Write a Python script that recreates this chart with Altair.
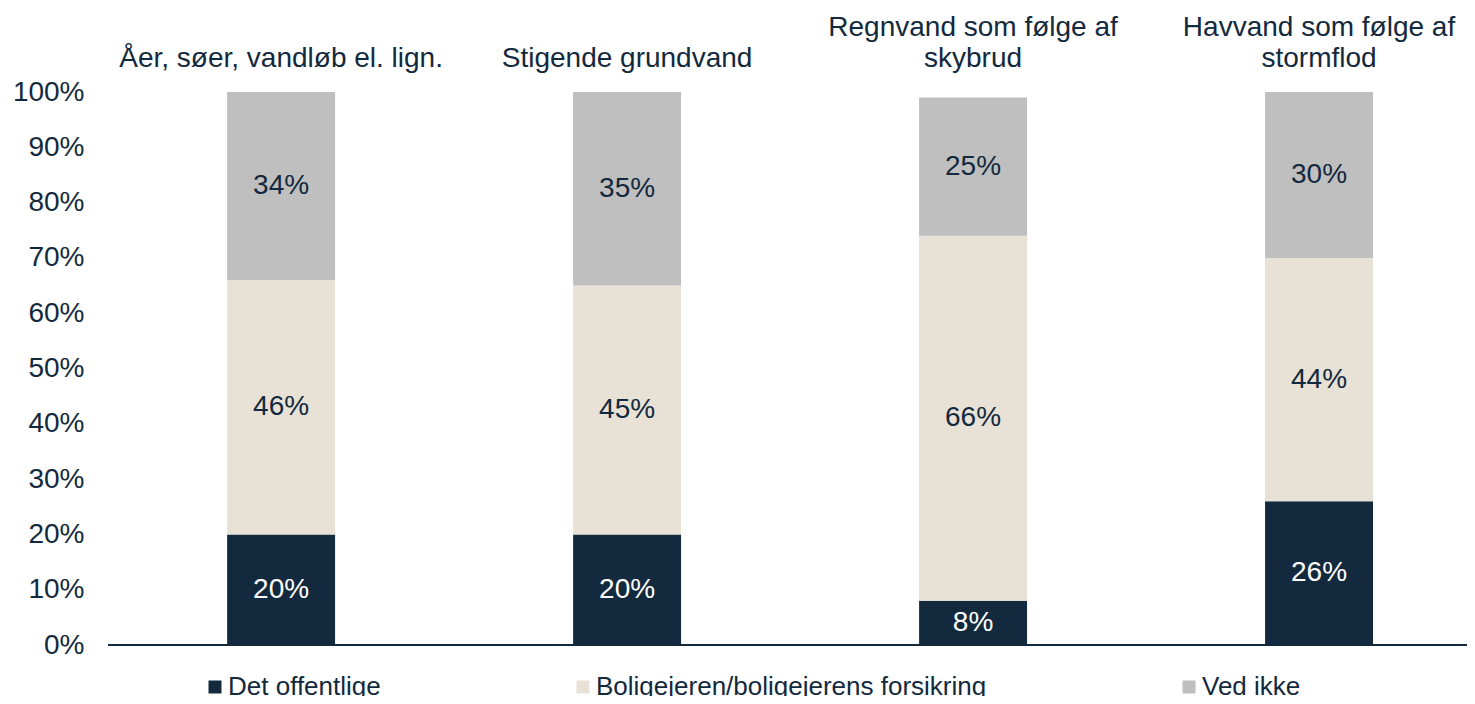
import altair as alt
import pandas as pd

categories = [
    "Åer, søer, vandløb el. lign.",
    "Stigende grundvand",
    "Regnvand som følge af|skybrud",
    "Havvand som følge af|stormflod",
]
series = ["Det offentlige", "Boligejeren/boligejerens forsikring", "Ved ikke"]
det_offentlige = [20, 20, 8, 26]
boligejeren = [46, 45, 66, 44]
ved_ikke = [34, 35, 25, 30]
colors = ["#132a3e", "#e7e1d6", "#bfbfbf"]
y_ticks = [0, 10, 20, 30, 40, 50, 60, 70, 80, 90, 100]

DARK = "#13293d"
FONT = "Liberation Sans"
W, H = 1359, 553

rows = []
for i, c in enumerate(categories):
    for j, (s, vals) in enumerate(zip(series, [det_offentlige, boligejeren, ved_ikke])):
        rows.append({"category": c, "series": s, "order": j, "value": vals[i]})
df = pd.DataFrame(rows)

x_enc = alt.X(
    "category:N",
    sort=categories,
    title=None,
    scale=alt.Scale(paddingInner=0.688, paddingOuter=0.308, align=0.559),
    axis=alt.Axis(
        orient="top",
        labelExpr="indexof(datum.value, '|') < 0 ? ['', datum.value] : split(datum.value, '|')",
        labelFontSize=28,
        labelLineHeight=31,
        labelPadding=51,
        labelColor=DARK,
        labelFont=FONT,
        labelAngle=0,
        labelLimit=0,
        domain=False,
        ticks=False,
    ),
)
y_scale = alt.Scale(domain=[0, 100], nice=False)

base = alt.Chart(df).transform_stack(
    stack="value",
    groupby=["category"],
    as_=["y0", "y1"],
    sort=[alt.SortField("order")],
).transform_calculate(
    mid="(datum.y0 + datum.y1) / 2",
    lbl="datum.value + '%'",
)

bars = base.mark_bar().encode(
    x=x_enc,
    y=alt.Y(
        "y1:Q",
        scale=y_scale,
        title=None,
        axis=alt.Axis(
            values=y_ticks,
            labelExpr="datum.value + '%'",
            labelFontSize=28,
            labelColor=DARK,
            labelFont=FONT,
            labelPadding=24,
            domain=False,
            ticks=False,
            grid=False,
        ),
    ),
    y2="y0:Q",
    color=alt.Color(
        "series:N",
        scale=alt.Scale(domain=series, range=colors),
        legend=alt.Legend(
            title=None,
            orient="none",
            legendX=94,
            legendY=582,
            direction="horizontal",
            symbolType="square",
            symbolSize=169,
            symbolStrokeWidth=0,
            labelFontSize=26,
            labelColor=DARK,
            labelFont=FONT,
            labelOffset=0,
            labelLimit=0,
            columnPadding=189,
        ),
    ),
)

texts = base.mark_text(fontSize=28, font=FONT).encode(
    x=alt.X("category:N", sort=categories),
    y=alt.Y("mid:Q", scale=y_scale),
    text="lbl:N",
    color=alt.condition(
        alt.datum.series == "Det offentlige", alt.value("white"), alt.value(DARK)
    ),
)

baseline = alt.Chart(pd.DataFrame({"v": [0]})).mark_rule(color=DARK, strokeWidth=2).encode(
    y=alt.Y("v:Q", scale=y_scale),
    x=alt.value(0),
    x2=alt.value(W),
)

chart = alt.layer(bars, texts, baseline).properties(
    width=W,
    height=H,
    autosize=alt.AutoSizeParams(type="none"),
    padding={"left": 100, "top": 84, "right": 0, "bottom": 51},
).configure(font=FONT).configure_view(stroke=None)

chart.save("out.html", embed_options={"renderer": "svg", "actions": False})
